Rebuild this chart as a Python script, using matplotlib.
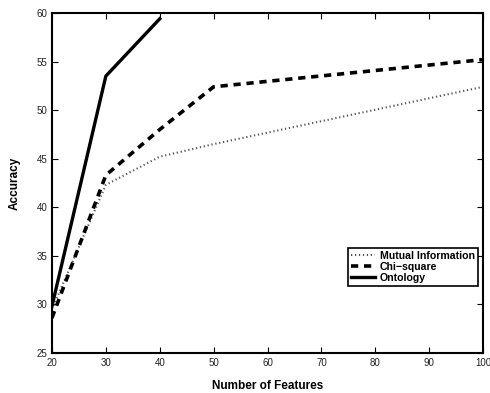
import matplotlib
matplotlib.use('Agg')
import matplotlib.pyplot as plt

plt.rcParams['font.family'] = ['Liberation Sans', 'DejaVu Sans']

# data
mi_x = [20, 30, 40, 50, 100]
mi_y = [29.5, 42.3, 45.2, 46.5, 52.4]
chi_x = [20, 30, 40, 50, 100]
chi_y = [28.6, 43.3, 48.0, 52.4, 55.2]
ont_x = [20, 30, 40]
ont_y = [29.8, 53.5, 59.4]

fig = plt.figure(figsize=(4.9, 3.93), dpi=100)
ax = fig.add_axes([0.106, 0.102, 0.880, 0.865])

ax.plot(mi_x, mi_y, linestyle=(0, (0.6, 1.3)), color='#555555', linewidth=1.5,
        label='Mutual Information')
ax.plot(chi_x, chi_y, linestyle=(0, (2.0, 1.6)), color='black', linewidth=2.6,
        label='Chi\u2212square')
ax.plot(ont_x, ont_y, linestyle='-', color='black', linewidth=2.4, label='Ontology')

ax.set_xlim(20, 100)
ax.set_ylim(25, 60)
ax.set_xticks(range(20, 101, 10))
ax.set_yticks(range(25, 61, 5))
ax.tick_params(direction='in', top=True, right=True, labelsize=7, length=4, width=0.8,
               labelcolor='#222222')
for s in ax.spines.values():
    s.set_linewidth(1.5)

ax.set_xlabel('Number of Features', fontsize=8.5, fontweight='bold', labelpad=9)
ax.set_ylabel('Accuracy', fontsize=8.5, fontweight='bold', labelpad=11)

leg = ax.legend(loc='upper right', bbox_to_anchor=(0.988, 0.31), fancybox=False,
                edgecolor='black', framealpha=1, prop={'size': 7.6, 'weight': 'bold'},
                handlelength=2.2, handletextpad=0.5, borderpad=0.3, labelspacing=0.1,
                borderaxespad=0)
leg.get_frame().set_linewidth(1.2)

fig.savefig('out.png', dpi=100)
